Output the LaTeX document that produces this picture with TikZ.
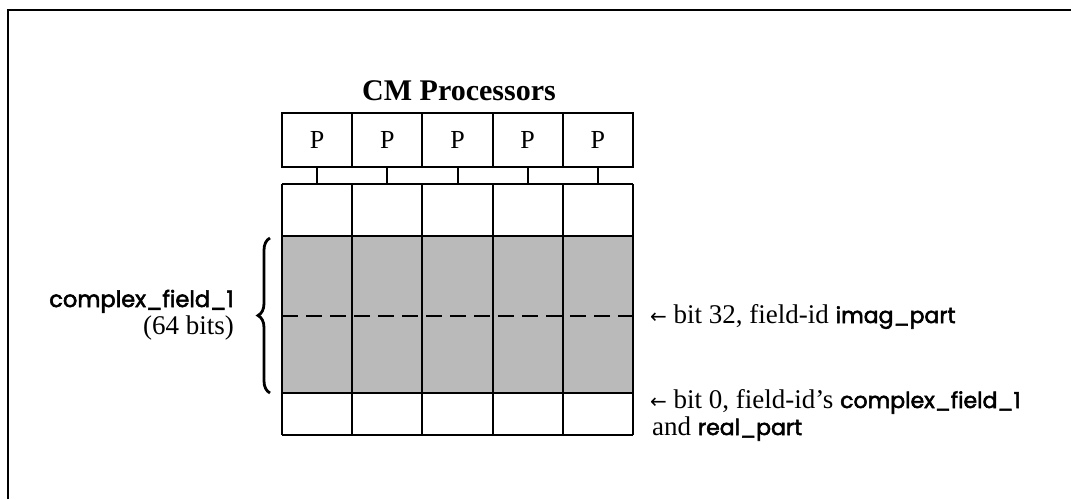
\documentclass[tikz,border=0pt]{standalone}
\usepackage{fontspec}
\setmainfont{Liberation Serif}
\newfontfamily\cf{Poppins}[FakeBold=2.5]
\newfontfamily\arrfont{DejaVu Sans}
\usetikzlibrary{decorations.pathreplacing}
\newcommand{\larr}{{\arrfont\fontsize{20}{20}\selectfont ←}}
\begin{document}
\begin{tikzpicture}[x=1pt,y=-1pt,
  cell/.style={draw,line width=2pt},
  pbox/.style={draw,line width=2pt,minimum width=70.2pt,minimum height=54pt,inner sep=0pt,font=\fontsize{26}{26}\selectfont},
  tick/.style={line width=2pt},
  lbl/.style={inner sep=0pt,font=\fontsize{27}{27}\selectfont},
  code/.style={inner sep=0pt,font=\fontsize{22.5}{22.5}\selectfont\cf}]
\useasboundingbox (0,0) rectangle (1071,499);
% frame
\draw[line width=2.4pt] (8,499) -- (8,10) -- (1071,10);
% title
\node[inner sep=0pt,anchor=base,font=\fontsize{30}{30}\selectfont\bfseries] (title) at (459,100) {CM Processors};
% processors
\foreach \i in {1,...,5}{
  \node[pbox] (p\i) at ({282+70.2*(\i-0.5)},140) {P};
  \coordinate (g\i) at ({282+70.2*(\i-0.5)},184);
}
% memory grid
\fill[black!27] (282,236) rectangle (633,393);
\foreach \i in {0,...,5}{
  \draw[cell] ({282+70.2*\i},184) -- ({282+70.2*\i},435);
}
\draw[cell] (282,184) -- (633,184);
\draw[cell] (282,236) -- (633,236);
\draw[cell] (282,393) -- (633,393);
\draw[cell] (282,435) -- (633,435);
\draw[line width=2.4pt,dash pattern=on 16pt off 8pt] (282,316) -- (633,316);
% ticks
\foreach \i in {1,...,5}{
  \draw[tick] (p\i.south) -- (g\i);
}
% brace
\coordinate (bb) at (270,393);
\coordinate (bt) at (270,238);
\draw[line width=2.8pt,decorate,decoration={brace,amplitude=12pt}] (bb) -- (bt);
% left labels
\node[code,anchor=base east] (cf) at (234,307) {complex\_field\_1};
\node[lbl,anchor=base east] (bits) at (234,334) {(64 bits)};
% right labels
\node[lbl,anchor=base west] (r1) at (650,323) {\larr\ bit 32, field-id {\cf\fontsize{22}{22}\selectfont imag\_part}};
\node[lbl,anchor=base west] (r2) at (650,408) {\larr\ bit 0, field-id’s {\cf\fontsize{22}{22}\selectfont complex\_field\_1}};
\node[lbl,anchor=base west] (r3) at (652,435) {and {\cf\fontsize{22}{22}\selectfont real\_part}};
\end{tikzpicture}
\end{document}
